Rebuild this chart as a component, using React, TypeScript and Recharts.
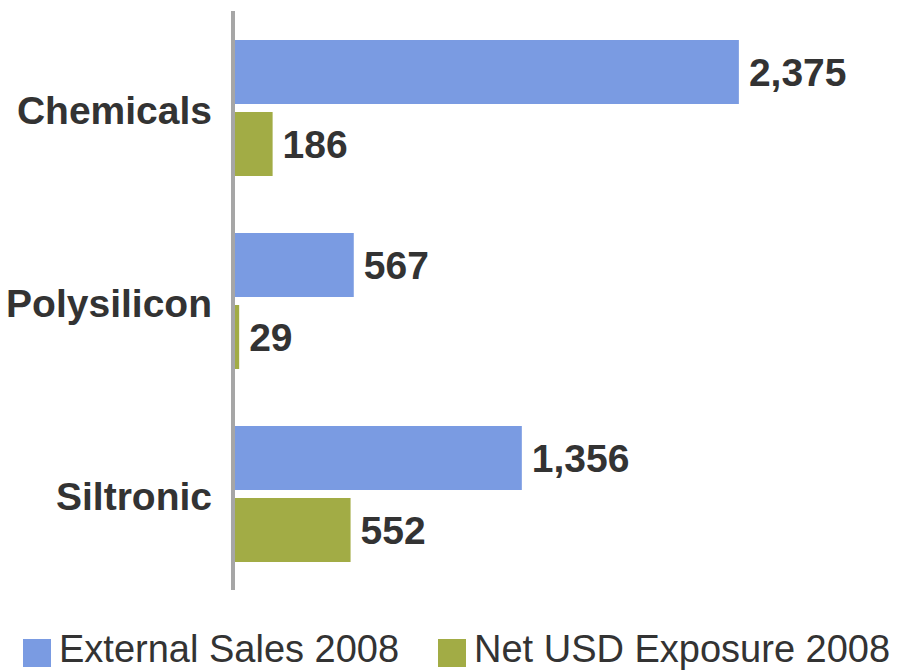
import React from "react";
import { BarChart, Bar, XAxis, YAxis, Legend, LabelList } from "recharts";

const categories = ["Chemicals", "Polysilicon", "Siltronic"];
const externalSales = [2375, 567, 1356];
const netUsdExposure = [186, 29, 552];
const seriesNames = ["External Sales 2008", "Net USD Exposure 2008"];
const colors = ["#7A9BE2", "#A2AC45"];

const data = categories.map((c, i) => ({
  name: c,
  sales: externalSales[i],
  exposure: netUsdExposure[i],
}));

const FONT = "'Liberation Sans', Arial, sans-serif";
const fmt = (v: any) => Number(v).toLocaleString("en-US");

const labelStyle = { fontSize: 39, fontWeight: "bold" as const, fill: "#333333", fontFamily: FONT };

const LegendContent = () => {
  const lefts = [23, 438];
  return (
    <div style={{ position: "relative", width: 908, height: 38 }}>
      {seriesNames.map((n, i) => (
        <React.Fragment key={n}>
          <div
            style={{
              position: "absolute",
              left: lefts[i],
              top: 9,
              width: 28,
              height: 28,
              background: colors[i],
            }}
          />
          <div
            style={{
              position: "absolute",
              left: lefts[i] + 36,
              top: 0,
              fontFamily: FONT,
              fontSize: 38,
              lineHeight: "38px",
              color: "#333333",
              whiteSpace: "nowrap",
            }}
          >
            {n}
          </div>
        </React.Fragment>
      ))}
    </div>
  );
};

export default function App() {
  return (
    <div style={{ position: "absolute", left: 0, top: 0, width: 908, height: 670, background: "#fff" }}>
      <BarChart
        width={908}
        height={670}
        data={data}
        layout="vertical"
        margin={{ top: 11, right: 36, bottom: 80, left: 0 }}
        barSize={64}
        barGap={8}
      >
        <XAxis type="number" domain={[0, 3000]} hide />
        <YAxis
          type="category"
          dataKey="name"
          width={233}
          tickLine={false}
          tickSize={0}
          tickMargin={21}
          axisLine={{ stroke: "#A6A6A6", strokeWidth: 4 }}
          tick={{ fontSize: 39, fontWeight: "bold", fill: "#333333", fontFamily: FONT, dy: 3 }}
        />
        <Legend
          verticalAlign="middle"
          layout="horizontal"
          wrapperStyle={{ top: 630, left: 0, width: 908 }}
          content={<LegendContent />}
        />
        <Bar dataKey="sales" name={seriesNames[0]} fill={colors[0]} isAnimationActive={false}>
          <LabelList dataKey="sales" position="right" offset={10} formatter={fmt} style={labelStyle} />
        </Bar>
        <Bar dataKey="exposure" name={seriesNames[1]} fill={colors[1]} isAnimationActive={false}>
          <LabelList dataKey="exposure" position="right" offset={10} formatter={fmt} style={labelStyle} />
        </Bar>
      </BarChart>
    </div>
  );
}
